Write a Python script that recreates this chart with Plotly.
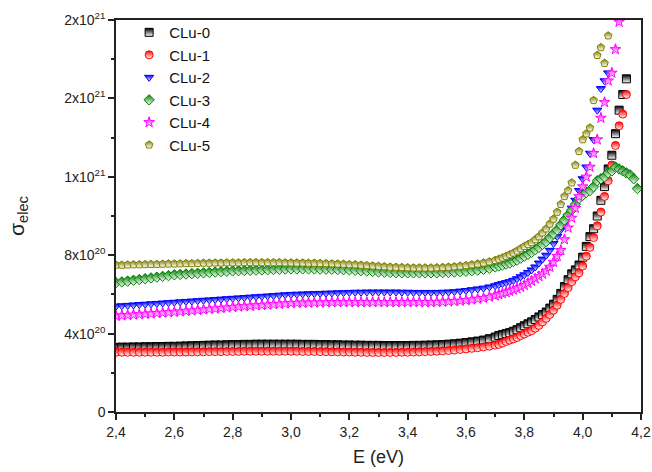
import plotly.graph_objects as go

# Photon energy (eV)
E_FLAT = [2.40, 2.42, 2.44, 2.46, 2.48, 2.50, 2.52, 2.54, 2.56, 2.58,
          2.60, 2.62, 2.64, 2.66, 2.68, 2.70, 2.72, 2.74, 2.76, 2.78,
          2.80, 2.82, 2.84, 2.86, 2.88, 2.90, 2.92, 2.94, 2.96, 2.98,
          3.00, 3.02, 3.04, 3.06, 3.08, 3.10, 3.12, 3.14, 3.16, 3.18,
          3.20, 3.22, 3.24, 3.26, 3.28, 3.30, 3.32, 3.34, 3.36, 3.38,
          3.40, 3.42, 3.44, 3.46, 3.48, 3.50, 3.52, 3.54, 3.56, 3.58,
          3.60, 3.62, 3.64, 3.66, 3.68, 3.70]
E_RISE = [3.7125, 3.725, 3.7375, 3.75, 3.7625, 3.775, 3.7875, 3.8,
          3.8125, 3.825, 3.8375, 3.85, 3.8625, 3.875, 3.8875, 3.9,
          3.9125, 3.925, 3.9375, 3.95, 3.9625, 3.975, 3.9875, 4.0,
          4.0125, 4.025, 4.0375, 4.05, 4.0625, 4.075, 4.0875, 4.1,
          4.1125, 4.125, 4.1375, 4.15, 4.1625, 4.175, 4.1875, 4.2]
E = E_FLAT + E_RISE

# sigma_elec in units of 1e20
clu0 = [3.30, 3.31, 3.31, 3.32, 3.32, 3.33, 3.33, 3.34, 3.34, 3.35,
        3.35, 3.36, 3.37, 3.38, 3.39, 3.40, 3.41, 3.42, 3.42, 3.43,
        3.44, 3.44, 3.45, 3.45, 3.46, 3.46, 3.46, 3.46, 3.46, 3.46,
        3.46, 3.46, 3.45, 3.45, 3.45, 3.44, 3.44, 3.43, 3.43, 3.42,
        3.42, 3.41, 3.41, 3.40, 3.40, 3.40, 3.39, 3.39, 3.39, 3.39,
        3.39, 3.40, 3.40, 3.41, 3.42, 3.43, 3.44, 3.46, 3.48, 3.51,
        3.54, 3.58, 3.62, 3.67, 3.74, 3.82,
        3.90, 3.95, 4.00, 4.05, 4.12, 4.20, 4.30, 4.40,
        4.50, 4.60, 4.72, 4.85, 4.97, 5.10, 5.30, 5.50,
        5.75, 6.05, 6.40, 6.75, 7.05, 7.25, 7.50, 7.90,
        8.45, 8.95, 9.35, 10.0, 10.8, 11.5, 12.4, 13.1,
        14.2, 15.4, 16.2, 17.0]
clu1 = [3.05, 3.05, 3.05, 3.05, 3.05, 3.05, 3.05, 3.05, 3.05, 3.06,
        3.06, 3.06, 3.06, 3.07, 3.07, 3.07, 3.08, 3.08, 3.08, 3.09,
        3.09, 3.09, 3.10, 3.10, 3.10, 3.10, 3.10, 3.10, 3.10, 3.10,
        3.10, 3.10, 3.09, 3.09, 3.09, 3.08, 3.08, 3.07, 3.07, 3.06,
        3.06, 3.05, 3.05, 3.04, 3.04, 3.04, 3.04, 3.04, 3.04, 3.05,
        3.05, 3.06, 3.07, 3.08, 3.09, 3.10, 3.12, 3.14, 3.16, 3.19,
        3.22, 3.25, 3.28, 3.32, 3.36, 3.41,
        3.45, 3.52, 3.60, 3.67, 3.73, 3.80, 3.90, 3.98,
        4.07, 4.15, 4.28, 4.42, 4.60, 4.78, 4.98, 5.20,
        5.45, 5.75, 6.05, 6.35, 6.65, 6.90, 7.10, 7.45,
        7.95, 8.40, 8.90, 9.50, 10.2, 11.0, 11.8, 12.6,
        13.6, 14.6, 15.2, 16.2]
clu2 = [5.40, 5.42, 5.44, 5.46, 5.48, 5.50, 5.52, 5.54, 5.56, 5.58,
        5.60, 5.62, 5.64, 5.66, 5.68, 5.70, 5.72, 5.74, 5.76, 5.78,
        5.80, 5.82, 5.84, 5.86, 5.88, 5.90, 5.92, 5.94, 5.96, 5.98,
        6.00, 6.01, 6.02, 6.03, 6.04, 6.05, 6.06, 6.07, 6.08, 6.09,
        6.10, 6.11, 6.11, 6.12, 6.12, 6.12, 6.12, 6.12, 6.12, 6.11,
        6.11, 6.10, 6.10, 6.10, 6.10, 6.10, 6.11, 6.12, 6.14, 6.17,
        6.20, 6.24, 6.28, 6.32, 6.38, 6.44,
        6.50, 6.55, 6.60, 6.65, 6.72, 6.80, 6.90, 7.00,
        7.12, 7.25, 7.40, 7.60, 7.80, 8.00, 8.25, 8.60,
        8.95, 9.30, 9.65, 10.0, 10.4, 10.8, 11.3, 11.9,
        12.5, 13.2, 13.9, 15.4, 16.5, 16.9, 17.3]
clu3 = [6.60, 6.64, 6.68, 6.72, 6.76, 6.80, 6.84, 6.88, 6.92, 6.96,
        7.00, 7.02, 7.04, 7.06, 7.08, 7.10, 7.12, 7.14, 7.16, 7.18,
        7.20, 7.21, 7.22, 7.23, 7.24, 7.25, 7.26, 7.27, 7.28, 7.29,
        7.30, 7.30, 7.30, 7.30, 7.30, 7.29, 7.29, 7.28, 7.27, 7.26,
        7.25, 7.23, 7.21, 7.19, 7.17, 7.15, 7.13, 7.12, 7.11, 7.10,
        7.10, 7.10, 7.10, 7.10, 7.10, 7.10, 7.11, 7.12, 7.14, 7.16,
        7.18, 7.21, 7.24, 7.28, 7.33, 7.40,
        7.45, 7.50, 7.55, 7.60, 7.68, 7.75, 7.85, 7.95,
        8.05, 8.15, 8.28, 8.40, 8.55, 8.70, 8.90, 9.10,
        9.30, 9.55, 9.80, 10.05, 10.3, 10.6, 10.9, 11.05,
        11.2, 11.3, 11.5, 11.8, 11.9, 12.0, 12.2, 12.3,
        12.5, 12.4, 12.3, 12.2, 12.1, 11.9, 11.4]
clu4 = [4.90, 4.92, 4.94, 4.96, 4.98, 5.00, 5.02, 5.04, 5.06, 5.08,
        5.10, 5.12, 5.15, 5.17, 5.20, 5.22, 5.25, 5.27, 5.30, 5.32,
        5.35, 5.37, 5.39, 5.41, 5.43, 5.45, 5.47, 5.49, 5.51, 5.53,
        5.55, 5.56, 5.57, 5.57, 5.58, 5.58, 5.59, 5.59, 5.60, 5.60,
        5.60, 5.60, 5.60, 5.60, 5.60, 5.60, 5.60, 5.60, 5.60, 5.60,
        5.60, 5.60, 5.60, 5.60, 5.60, 5.61, 5.62, 5.63, 5.65, 5.67,
        5.70, 5.73, 5.77, 5.81, 5.87, 5.94,
        6.00, 6.05, 6.10, 6.17, 6.23, 6.30, 6.38, 6.47,
        6.57, 6.68, 6.80, 6.92, 7.05, 7.20, 7.40, 7.65,
        7.95, 8.25, 8.80, 9.40, 9.90, 10.4, 11.0, 11.5,
        12.0, 12.5, 13.2, 13.9, 15.0, 15.8, 16.9, 17.3,
        18.5, 19.9]
clu5 = [7.50, 7.50, 7.51, 7.52, 7.52, 7.53, 7.54, 7.54, 7.55, 7.56,
        7.56, 7.57, 7.58, 7.58, 7.59, 7.60, 7.60, 7.61, 7.61, 7.62,
        7.62, 7.62, 7.63, 7.63, 7.63, 7.63, 7.63, 7.63, 7.63, 7.62,
        7.62, 7.61, 7.61, 7.60, 7.60, 7.59, 7.58, 7.57, 7.56, 7.55,
        7.53, 7.52, 7.50, 7.48, 7.46, 7.44, 7.42, 7.40, 7.39, 7.38,
        7.37, 7.36, 7.36, 7.36, 7.36, 7.37, 7.38, 7.40, 7.42, 7.45,
        7.48, 7.52, 7.56, 7.61, 7.67, 7.74,
        7.80, 7.87, 7.95, 8.03, 8.12, 8.22, 8.34, 8.45,
        8.55, 8.65, 8.80, 8.95, 9.15, 9.35, 9.60, 9.85,
        10.2, 10.6, 11.0, 11.3, 11.7, 12.6, 13.3, 13.9,
        14.2, 14.5, 15.9, 18.2, 18.6, 17.8, 19.2]

NAMES = ["CLu-0", "CLu-1", "CLu-2", "CLu-3", "CLu-4", "CLu-5"]
SERIES = [clu0, clu1, clu2, clu3, clu4, clu5]
COLORS = ["#000000", "#ff0000", "#0000ff", "#008000", "#ff00ff", "#808000"]
SYMBOLS = ["square", "circle", "triangle-down", "diamond", "star", "pentagon"]
SCALE = 1e20

Y_TICKS = [0, 4e20, 8e20, 1.2e21, 1.6e21, 2.0e21]
Y_TICKTEXT = ["0", "4x10<sup>20</sup>", "8x10<sup>20</sup>", "1x10<sup>21</sup>",
              "2x10<sup>21</sup>", "2x10<sup>21</sup>"]

fig = go.Figure()
for name, vals, col, sym in zip(NAMES, SERIES, COLORS, SYMBOLS):
    xs = E[:len(vals)]
    fig.add_trace(go.Scatter(
        x=xs, y=[v * SCALE for v in vals], mode="markers", name=name,
        marker=dict(symbol=sym, size=8, color=col,
                    line=dict(color=col, width=1),
                    gradient=dict(type="vertical", color="white")),
    ))

font_family = "Liberation Sans, Arial, sans-serif"
fig.update_layout(
    width=652, height=472,
    margin=dict(l=116, r=11, t=20, b=60),
    paper_bgcolor="white", plot_bgcolor="white",
    separators=",.",
    font=dict(family=font_family, size=14, color="#222"),
    showlegend=True,
    legend=dict(x=0.025, y=1.01, xanchor="left", yanchor="top",
                bgcolor="rgba(0,0,0,0)", font=dict(size=15, color="#111"),
                tracegroupgap=0, itemwidth=30),
)
fig.update_xaxes(
    range=[2.4, 4.2], tickmode="array",
    tickvals=[2.4, 2.6, 2.8, 3.0, 3.2, 3.4, 3.6, 3.8, 4.0, 4.2],
    tickformat=".1f", automargin=False,
    ticks="outside", ticklen=6, tickwidth=1.5, tickcolor="#222",
    minor=dict(ticks="outside", ticklen=3, tickwidth=1.5, tickcolor="#222", dtick=0.1, tick0=2.4),
    showline=True, linecolor="#222", linewidth=1.5, mirror=True,
    showgrid=False, zeroline=False,
    title=dict(text="E (eV)", font=dict(size=18, color="#222"), standoff=12),
    tickfont=dict(size=14, color="#222"),
)
fig.update_yaxes(
    range=[0, 2e21], tickmode="array", tickvals=Y_TICKS, ticktext=Y_TICKTEXT,
    automargin=False,
    ticks="outside", ticklen=6, tickwidth=1.5, tickcolor="#222",
    minor=dict(ticks="outside", ticklen=3, tickwidth=1.5, tickcolor="#222", dtick=2e20, tick0=0),
    showline=True, linecolor="#222", linewidth=1.5, mirror=True,
    showgrid=False, zeroline=False,
    title=dict(text="σ<sub>elec</sub>", font=dict(size=21, color="#222"), standoff=34),
    tickfont=dict(size=14, color="#222"),
)

fig.write_html("out.html")
